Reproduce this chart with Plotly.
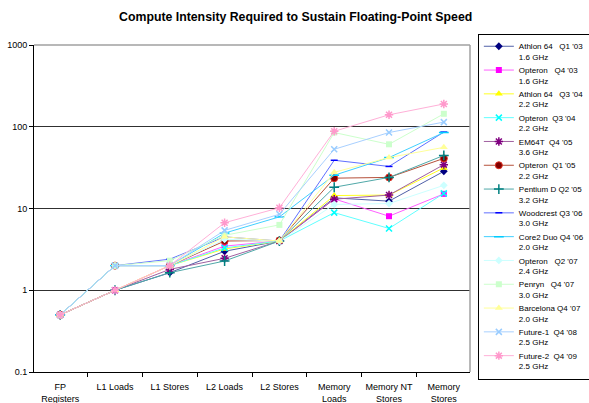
import plotly.graph_objects as go

categories = ["FP<br>Registers", "L1 Loads", "L1 Stores", "L2 Loads", "L2 Stores",
              "Memory<br>Loads", "Memory NT<br>Stores", "Memory<br>Stores"]

NB = "\u00a0"
series_names = [
    f"Athlon 64{NB*3}Q1 '03<br>1.6 GHz",
    f"Opteron{NB*3}Q4 '03<br>1.6 GHz",
    f"Athlon 64{NB*3}Q3 '04<br>2.2 GHz",
    f"Opteron{NB*2}Q3 '04<br>2.2 GHz",
    f"EM64T{NB*2}Q4 '05<br>3.6 GHz",
    f"Opteron{NB*2}Q1 '05<br>2.2 GHz",
    f"Pentium D Q2 '05<br>3.2 GHz",
    f"Woodcrest Q3 '06<br>3.0 GHz",
    f"Core2 Duo Q4 '06<br>2.0 GHz",
    f"Opteron{NB*3}Q2 '07<br>2.4 GHz",
    f"Penryn{NB*3}Q4 '07<br>3.0 GHz",
    f"Barcelona Q4 '07<br>2.0 GHz",
    f"Future-1{NB*2}Q4 '08<br>2.5 GHz",
    f"Future-2{NB*2}Q4 '09<br>2.5 GHz",
]

athlon64_q103 = [0.5, 1, 1.64, 3.0, 4, 13.5, 12.3, 28.5]
opteron_q403 = [0.5, 1, 2, 3.47, 4, 13.1, 8.05, 15.1]
athlon64_q304 = [0.5, 1, 2, 3.2, 4, 14.4, 14.6, 31.4]
opteron_q304 = [0.5, 2, 2, 3.3, 4, 8.9, 5.7, 15.3]
em64t_q405 = [0.5, 1, 1.8, 2.46, 4, 13.0, 14.6, 34.4]
opteron_q105 = [0.5, 2, 2, 4.0, 4.06, 23.5, 24, 41]
pentiumd_q205 = [0.5, 1, 1.64, 2.28, 4, 18.2, 24, 44.6]
woodcrest_q306 = [0.5, 2, 2.4, 4.5, 4, 38.9, 32.7, 86]
core2_q406 = [0.5, 2, 2, 5.0, 7.9, 25.5, 42, 85]
opteron_q207 = [0.5, 2, 2, 4.2, 4, 11.2, 11.5, 19.2]
penryn_q407 = [0.5, 2, 2.3, 4.7, 6.3, 85, 61, 144]
barcelona_q407 = [0.5, 1, 2, 4.5, 4, 27.7, 42, 56]
future1_q408 = [0.5, 2, 2, 5.4, 8.5, 53, 85, 114]
future2_q409 = [0.5, 1, 2, 6.7, 10.2, 88, 140, 190]

all_values = [athlon64_q103, opteron_q403, athlon64_q304, opteron_q304, em64t_q405,
              opteron_q105, pentiumd_q205, woodcrest_q306, core2_q406, opteron_q207,
              penryn_q407, barcelona_q407, future1_q408, future2_q409]

colors = ["#000080", "#FF00FF", "#FFFF00", "#00FFFF", "#800080", "#800000", "#008080",
          "#0000FF", "#00CCFF", "#CCFFFF", "#CCFFCC", "#FFFF99", "#99CCFF", "#FF99CC"]
line_colors = ["#5060a8", "#FF60FF", "#FFFF20", "#60FFFF", "#a060a0", "#b5503a", "#50a8a8",
               "#6070FF", "#40D0FF", "#CCFFFF", "#CCFFCC", "#FFFF99", "#A8D0FF", "#FFB0D8"]
symbols = ["diamond", "square", "triangle-up", "x-thin-open", "asterisk-open", "circle",
           "cross-thin-open", "line-ew-open", "line-ew-open", "diamond", "square",
           "triangle-up", "x-thin-open", "asterisk-open"]
sizes = [6, 6, 7, 6, 7, 7, 7, 5, 7, 6, 6, 7, 6, 7]

fig = go.Figure()
for name, vals, c, lc, sym, sz in zip(series_names, all_values, colors, line_colors, symbols, sizes):
    open_sym = sym.endswith("-open")
    marker = dict(symbol=sym, size=sz, color=c,
                  line=dict(color=c, width=1.5 if open_sym else 0))
    if sym == "circle":
        marker["line"] = dict(color="#e03020", width=1)
    fig.add_trace(go.Scatter(x=categories, y=vals, mode="lines+markers", name=name,
                             line=dict(color=lc, width=1), marker=marker))

fig.update_layout(
    width=589, height=403,
    margin=dict(l=34, r=119, t=45, b=31, autoexpand=False),
    paper_bgcolor="white", plot_bgcolor="white",
    font=dict(family="Liberation Sans, Arial, sans-serif", size=9, color="black"),
    title=dict(text="<b>Compute Intensity Required to Sustain Floating-Point Speed</b>",
               x=0.502, xref="container", y=0.958, yanchor="middle",
               font=dict(size=12.3, color="black")),
    showlegend=True,
    legend=dict(x=1.018, y=1.035, xanchor="left", yanchor="top",
                bordercolor="black", borderwidth=1, bgcolor="white",
                font=dict(size=8), valign="top", tracegroupgap=0,
                itemwidth=30, maxheight=360),
)
fig.update_xaxes(type="category", showline=True, linecolor="black", linewidth=1,
                 ticks="outside", tickson="boundaries", ticklen=4, tickcolor="black",
                 showgrid=False, mirror=False, tickfont=dict(size=9), tickangle=0,
                 automargin=False, ticklabelstandoff=6)
fig.update_yaxes(type="log", range=[-1, 3], tickvals=[0.1, 1, 10, 100, 1000],
                 ticktext=["0.1", "1", "10", "100", "1000"],
                 showline=True, linecolor="black", linewidth=1,
                 ticks="outside", ticklen=4, tickcolor="black",
                 showgrid=True, gridcolor="#303030", gridwidth=1,
                 zeroline=False, tickfont=dict(size=9), automargin=False)
# right and top border of plot area
fig.add_shape(type="line", xref="paper", yref="paper", x0=1, x1=1, y0=0, y1=1,
              line=dict(color="#a0a0a0", width=1.5))
fig.add_shape(type="line", xref="paper", yref="paper", x0=0, x1=1, y0=1, y1=1,
              line=dict(color="#a0a0a0", width=1.5))

fig.write_html("out.html", config={"displayModeBar": False},
               post_script="document.body.style.margin='0px';")
